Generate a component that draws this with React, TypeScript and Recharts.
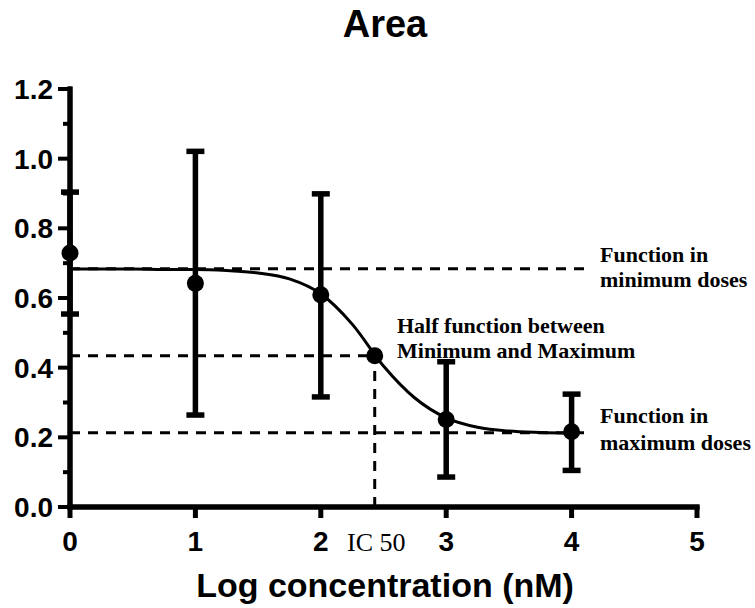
import React from 'react'
import {
  ComposedChart,
  XAxis,
  YAxis,
  Line,
  Scatter,
  ErrorBar,
  ReferenceLine
} from 'recharts'

// measured doses (log nM) with mean and error range
const doses = [0, 1, 2, 3, 4]
const meanArea = [0.729, 0.642, 0.609, 0.251, 0.216]
const lowArea = [0.554, 0.264, 0.316, 0.086, 0.105]
const highArea = [0.904, 1.021, 0.899, 0.417, 0.324]

// fitted dose-response curve
const fitX = [0, 0.25, 0.5, 0.75, 1, 1.25, 1.5, 1.75, 2, 2.25, 2.5, 2.75, 3, 3.25, 3.5, 3.75, 4]
const fitY = [0.683, 0.683, 0.683, 0.682, 0.682, 0.679, 0.672, 0.655, 0.612, 0.525, 0.405, 0.313, 0.256, 0.229, 0.218, 0.214, 0.212]

// guide values
const ic50X = 2.43
const ic50Y = 0.434
const topPlateau = 0.684
const bottomPlateau = 0.213
const guideEnd = 4.1

const xTicks = [0, 1, 2, 3, 4, 5]
const yTicks = [0, 0.1, 0.2, 0.3, 0.4, 0.5, 0.6, 0.7, 0.8, 0.9, 1.0, 1.1, 1.2]

const SANS = '"Liberation Sans", Arial, sans-serif'
const SERIF = '"Liberation Serif", "Times New Roman", serif'

const points = doses.map((x, i) => ({
  x,
  y: meanArea[i],
  err: [meanArea[i] - lowArea[i], highArea[i] - meanArea[i]]
}))
const fit = fitX.map((x, i) => ({ x, y: fitY[i] }))
const ic50Point = [{ x: ic50X, y: ic50Y }]

const dash = '10 8'

const YTick = ({ x, y, payload }: any) => {
  const v = payload.value
  const major = Math.round(v * 10) % 2 === 0
  return (
    <g>
      <line x1={x - (major ? 12 : 7)} x2={x} y1={y} y2={y} stroke="#000" strokeWidth={4} />
      {major && (
        <text
          x={x - 17}
          y={y}
          dy="0.36em"
          textAnchor="end"
          fontFamily={SANS}
          fontWeight={700}
          fontSize={28}
          fill="#000"
        >
          {v.toFixed(1)}
        </text>
      )}
    </g>
  )
}

const XTick = ({ x, y, payload }: any) => (
  <g>
    <line x1={x} x2={x} y1={y} y2={y + 11} stroke="#000" strokeWidth={5} />
    <text
      x={x}
      y={y + 44}
      textAnchor="middle"
      fontFamily={SANS}
      fontWeight={700}
      fontSize={28}
      fill="#000"
    >
      {payload.value}
    </text>
  </g>
)

const Dot = (p: any) => <circle cx={p.cx} cy={p.cy} r={8.5} fill="#000" />

export default function App() {
  return (
    <div style={{ position: 'relative', width: 755, height: 608, background: '#fff' }}>
      <style>{`body{margin:0}`}</style>
      <ComposedChart
        width={755}
        height={608}
        margin={{ top: 89, right: 58, bottom: 0, left: 0 }}
      >
        <XAxis
          type="number"
          dataKey="x"
          domain={[0, 5]}
          ticks={xTicks}
          tickSize={0}
          tickMargin={0}
          height={101}
          tick={<XTick />}
          tickLine={false}
          axisLine={{ stroke: '#000', strokeWidth: 5, strokeLinecap: 'square' }}
        />
        <YAxis
          type="number"
          dataKey="y"
          domain={[0, 1.2]}
          ticks={yTicks}
          interval={0}
          tickSize={0}
          tickMargin={0}
          width={70}
          tick={<YTick />}
          tickLine={false}
          axisLine={{ stroke: '#000', strokeWidth: 5, strokeLinecap: 'square' }}
        />

        {/* heavy axis lines, Prism style */}
        <ReferenceLine x={0} stroke="#000" strokeWidth={5} strokeLinecap="square" />
        <ReferenceLine y={0} stroke="#000" strokeWidth={5} strokeLinecap="square" />

        <ReferenceLine
          segment={[{ x: 0, y: topPlateau }, { x: guideEnd, y: topPlateau }]}
          stroke="#000"
          strokeWidth={3}
          strokeDasharray={dash}
        />
        <ReferenceLine
          segment={[{ x: 0, y: ic50Y }, { x: ic50X, y: ic50Y }]}
          stroke="#000"
          strokeWidth={3}
          strokeDasharray={dash}
        />
        <ReferenceLine
          segment={[{ x: ic50X, y: 0 }, { x: ic50X, y: ic50Y }]}
          stroke="#000"
          strokeWidth={3}
          strokeDasharray={dash}
        />
        <ReferenceLine
          segment={[{ x: 0, y: bottomPlateau }, { x: guideEnd, y: bottomPlateau }]}
          stroke="#000"
          strokeWidth={3}
          strokeDasharray={dash}
        />

        <Line
          data={fit}
          dataKey="y"
          type="monotone"
          stroke="#000"
          strokeWidth={3}
          dot={false}
          activeDot={false}
          isAnimationActive={false}
        />
        <Scatter data={points} dataKey="y" shape={<Dot />} isAnimationActive={false}>
          <ErrorBar
            dataKey="err"
            direction="y"
            width={9}
            strokeWidth={5.5}
            stroke="#000"
            isAnimationActive={false}
          />
        </Scatter>
        <Scatter data={ic50Point} dataKey="y" shape={<Dot />} isAnimationActive={false} />
      </ComposedChart>

      <svg
        width={755}
        height={608}
        style={{ position: 'absolute', left: 0, top: 0, pointerEvents: 'none' }}
      >
        <text x={385} y={37} textAnchor="middle" fontFamily={SANS} fontWeight={700} fontSize={38}>
          Area
        </text>
        <text x={385} y={597} textAnchor="middle" fontFamily={SANS} fontWeight={700} fontSize={34}>
          Log concentration (nM)
        </text>
        <text x={347} y={551} fontFamily={SERIF} fontSize={26}>
          IC 50
        </text>
        <g fontFamily={SERIF} fontWeight={700} fontSize={22}>
          <text x={600} y={262}>Function in</text>
          <text x={600} y={287}>minimum doses</text>
          <text x={397} y={333}>Half function between</text>
          <text x={397} y={358}>Minimum and Maximum</text>
          <text x={600} y={423}>Function in</text>
          <text x={600} y={450}>maximum doses</text>
        </g>
      </svg>
    </div>
  )
}
